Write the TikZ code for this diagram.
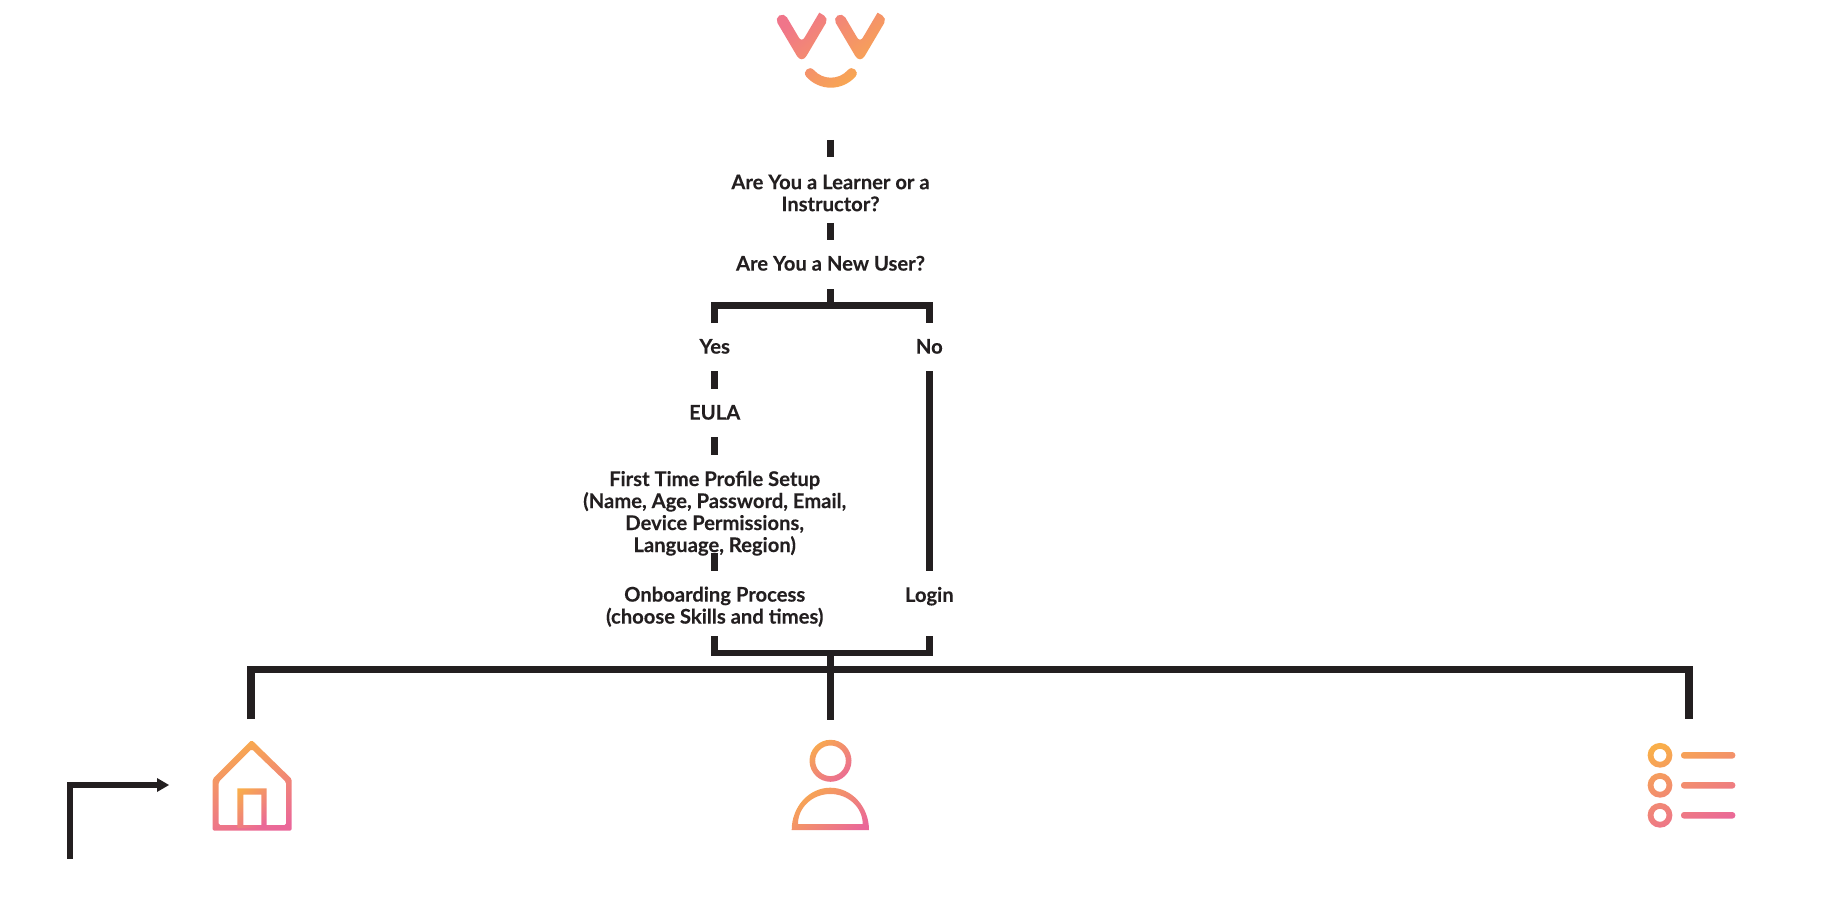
\documentclass[tikz,border=0pt]{standalone}
\usepackage{fontspec}
\setmainfont{Lato}[BoldFeatures={FakeBold=0.12}]
\definecolor{ink}{HTML}{231F20}
\definecolor{gorange}{HTML}{F9AE4A}
\definecolor{gpink}{HTML}{EA6799}
\definecolor{lpink}{HTML}{F0758A}
\tikzset{
  x=1pt,y=-1pt,
  conn/.style={draw=ink,line width=7.3pt},
  thinconn/.style={draw=ink,line width=6pt},
  lbl/.style={font=\fontsize{20.2pt}{22pt}\selectfont\bfseries,text=ink,align=center,inner sep=0pt,anchor=base},
  grad/.style={top color=gorange,bottom color=gpink,shading angle=40},
  loggrad/.style={top color=lpink,bottom color=gorange,shading angle=40},
}
\begin{document}
\begin{tikzpicture}
\useasboundingbox (0,0) rectangle (1824,912);

% logo
\begin{scope}[rounded corners=5.5pt]
\clip
  (789.58,43.5) -- (774.66,18.26) -- (784.14,12.66) -- (801.7,42.4) [sharp corners] -- (819.26,12.66) [rounded corners=5.5pt] -- (828.74,18.26) -- (813.82,43.5) [rounded corners=9.3pt] -- (801.7,64) -- cycle
  [rounded corners=5.5pt]
  (847.88,43.5) -- (832.96,18.26) -- (842.44,12.66) -- (860,42.4) [sharp corners] -- (877.56,12.66) [rounded corners=5.5pt] -- (887.04,18.26) -- (872.12,43.5) [rounded corners=9.3pt] -- (860,64) -- cycle;
\shade[loggrad,sharp corners] (772,10) rectangle (890,92);
\end{scope}
\begin{scope}
\clip (806.25,76.58) .. controls (819.3,91.39) and (842.4,91.39) .. (855.45,76.58)
  .. controls (859.86,71.58) and (852.36,64.97) .. (847.95,69.97)
  .. controls (838.88,80.27) and (822.82,80.27) .. (813.75,69.97)
  .. controls (809.34,64.97) and (801.84,71.58) .. (806.25,76.58) -- cycle;
\shade[loggrad] (772,10) rectangle (890,92);
\end{scope}

% labels
\node[lbl] (q1) at (830.5,211.2) {Are You a Learner or a\\Instructor?};
\node[lbl] (q2) at (830.5,270.6) {Are You a New User?};
\node[lbl] (yes) at (714.7,353.6) {Yes};
\node[lbl] (no) at (929.3,353.6) {No};
\node[lbl] (eula) at (714.7,419.6) {EULA};
\node[lbl] (setup) at (714.7,552) {First Time Profile Setup\\(Name, Age, Password, Email,\\Device Permissions,\\Language, Region)};
\node[lbl] (onb) at (714.7,623.6) {Onboarding Process\\(choose Skills and times)};
\node[lbl] (login) at (929.3,601.9) {Login};

% connector ends
\coordinate (logoS) at (830.5,140);
\coordinate (q1N) at (830.5,157);
\coordinate (q1S) at (830.5,223);
\coordinate (q2N) at (830.5,240);
\coordinate (q2S) at (830.5,289);
\coordinate (split) at (830.5,305.5);
\coordinate (yesN) at (714.5,323);
\coordinate (noN) at (929.5,323);
\coordinate (yesS) at (714.5,371);
\coordinate (eulaN) at (714.5,389);
\coordinate (eulaS) at (714.5,437);
\coordinate (setupN) at (714.5,455);
\coordinate (setupS) at (714.5,553);
\coordinate (onbN) at (714.5,571);
\coordinate (noS) at (929.5,371);
\coordinate (loginN) at (929.5,571);
\coordinate (onbS) at (714.5,636);
\coordinate (loginS) at (929.5,636);
\coordinate (merge) at (830.5,653);
\coordinate (personN) at (830.5,720);
\coordinate (homeN) at (251,719);
\coordinate (listN) at (1689,719);
\coordinate (bus) at (830.5,669.5);
\coordinate (arrowS) at (70,858.7);
\coordinate (arrowE) at (169,785);

% connectors
\draw[conn] (logoS) -- (q1N);
\draw[conn] (q1S) -- (q2N);
\draw[conn] (q2S) -- (split);
\draw[conn] (yesN) |- (split) -| (noN);
\draw[conn] (yesS) -- (eulaN);
\draw[conn] (eulaS) -- (setupN);
\draw[conn] (setupS) -- (onbN);
\draw[conn] (noS) -- (loginN);
\draw[conn,line width=6.3pt] (onbS) |- (merge) -| (loginS);
\draw[conn] (merge) -- (personN);
\draw[conn] (homeN) |- (bus) -| (listN);
\draw[thinconn] (arrowS) |- (157,785);
\fill[ink] (arrowE) -- (157,778) -- (157,792) -- cycle;

% house
\begin{scope}[even odd rule]
\clip[rounded corners=1.5pt]
  (251.7,740) -- (291.7,779) -- (291.7,830.7) -- (212.7,830.7) -- (212.7,779) -- cycle
  (251.7,749) -- (286,782) -- (286,825) -- (218.7,825) -- (218.7,782) -- cycle;
\shade[top color=gorange,bottom color=gpink,shading angle=20] (205,735) rectangle (298,835);
\end{scope}
\begin{scope}[even odd rule]
\clip
  (237.3,788.3) rectangle (266.7,828)
  (243.3,794.7) rectangle (261.3,825);
\shade[grad] (230,785) rectangle (272,830);
\end{scope}

% person
\begin{scope}[even odd rule]
\clip
  (830.5,760.8) circle[radius=21pt]
  (830.5,760.8) circle[radius=15.3pt];
\shade[grad] (805,735) rectangle (856,786);
\end{scope}
\begin{scope}[even odd rule]
\clip
  (791.7,830) .. controls (791.7,806.6) and (809,787.7) .. (830.3,787.7)
  .. controls (851.6,787.7) and (869,806.6) .. (869,830) -- cycle
  (798,824) .. controls (798,807.4) and (812.5,794) .. (830.35,794)
  .. controls (848.2,794) and (862.7,807.4) .. (862.7,824) -- cycle;
\shade[grad] (785,782) rectangle (875,835);
\end{scope}

% list
\begin{scope}[even odd rule]
\clip
  (1660,755.3) circle[radius=12.4pt] (1660,755.3) circle[radius=6.5pt]
  (1660,785.3) circle[radius=12.4pt] (1660,785.3) circle[radius=6.5pt]
  (1660,815.3) circle[radius=12.4pt] (1660,815.3) circle[radius=6.5pt]
  [rounded corners=3pt]
  (1681,752) rectangle (1735.3,758.6)
  (1681,782) rectangle (1735.3,788.6)
  (1681,812) rectangle (1735.3,818.6);
\shade[top color=gorange,bottom color=gpink,shading angle=25] (1640,738) rectangle (1740,832);
\end{scope}
\end{tikzpicture}
\end{document}
